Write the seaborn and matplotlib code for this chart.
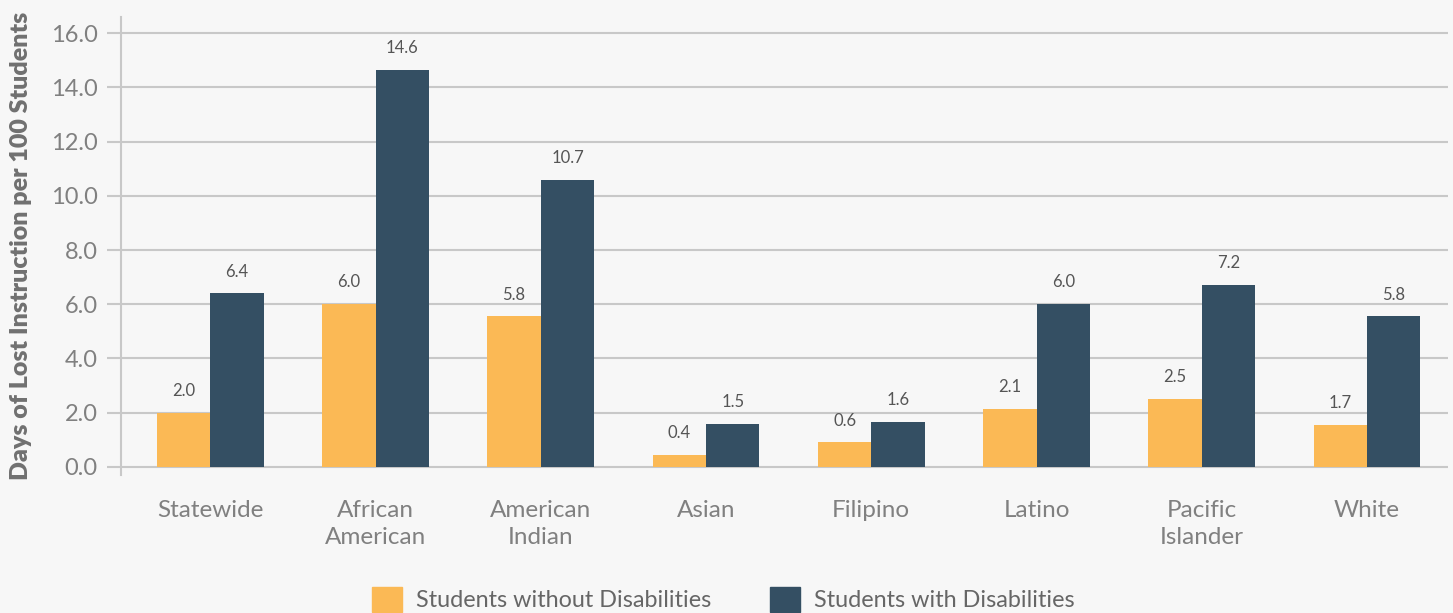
import pandas as pd
import numpy as np
import matplotlib
matplotlib.use("Agg")
import matplotlib.pyplot as plt
import seaborn as sns

# --- data ---
groups = ["Statewide", "African\nAmerican", "American\nIndian", "Asian",
          "Filipino", "Latino", "Pacific\nIslander", "White"]
series = ["Students without Disabilities", "Students with Disabilities"]
# bar heights as drawn in the picture
without_heights = [2.0, 6.0, 5.55, 0.45, 0.9, 2.15, 2.5, 1.55]
with_heights = [6.4, 14.65, 10.6, 1.6, 1.65, 6.0, 6.7, 5.55]
# value labels printed above the bars
without_labels = [2.0, 6.0, 5.8, 0.4, 0.6, 2.1, 2.5, 1.7]
with_labels = [6.4, 14.6, 10.7, 1.5, 1.6, 6.0, 7.2, 5.8]
yticks = [0, 2, 4, 6, 8, 10, 12, 14, 16]

ORANGE = "#FBB955"
NAVY = "#344F63"
BG = "#F7F7F7"
GRID = "#C8C8C8"

df = pd.DataFrame({
    "group": groups * 2,
    "series": [series[0]] * len(groups) + [series[1]] * len(groups),
    "value": without_heights + with_heights,
})

sns.set_theme(style="white")
plt.rcParams["font.family"] = ["Lato", "DejaVu Sans"]

fig = plt.figure(figsize=(14.53, 6.13), dpi=100, facecolor=BG)
ax = fig.add_axes([0.0833, 0.2251, 0.9133, 0.7472])
ax.set_facecolor(BG)

sns.barplot(data=df, x="group", y="value", hue="series", order=groups,
            hue_order=series, palette=[ORANGE, NAVY], width=0.646,
            saturation=1, linewidth=0, ax=ax, legend=False, zorder=3)

# value labels
for container, labs in zip(ax.containers, [without_labels, with_labels]):
    for bar, lab in zip(container, labs):
        ax.annotate(f"{lab:.1f}", (bar.get_x() + bar.get_width() / 2, bar.get_height()),
                    xytext=(0, 10), textcoords="offset points", ha="center", va="bottom",
                    fontsize=12, color="#555555")

ax.set_xlim(-0.54, 7.49)
ax.set_ylim(-0.3, 16.6)
ax.set_yticks(yticks)
ax.set_yticklabels([f"{t:.1f}" for t in yticks])
ax.yaxis.grid(True, color=GRID, linewidth=1.5, zorder=0)
ax.set_axisbelow(True)

for s in ["top", "right", "bottom"]:
    ax.spines[s].set_visible(False)
ax.spines["left"].set_color(GRID)
ax.spines["left"].set_linewidth(1.5)

ax.tick_params(axis="y", length=10, width=1.5, color=GRID, pad=7,
               labelsize=17, labelcolor="#808080", left=True)
ax.tick_params(axis="x", length=0, pad=18, labelsize=17.5, labelcolor="#808080")
for t in ax.get_xticklabels():
    t.set_linespacing(1.38)

ax.set_xlabel("")
ax.set_ylabel("Days of Lost Instruction per 100 Students", fontsize=18,
              fontweight="heavy", color="#707070", labelpad=13)

handles = [plt.Rectangle((0, 0), 1, 1, color=c) for c in [ORANGE, NAVY]]
fig.legend(handles, series, loc="center", bbox_to_anchor=(0.498, 0.022),
           ncol=2, frameon=False, fontsize=16.8, labelcolor="#666666",
           handlelength=1.3, handleheight=1.3, handletextpad=0.6,
           columnspacing=2.5)

fig.savefig("out.png", dpi=100, facecolor=BG)
